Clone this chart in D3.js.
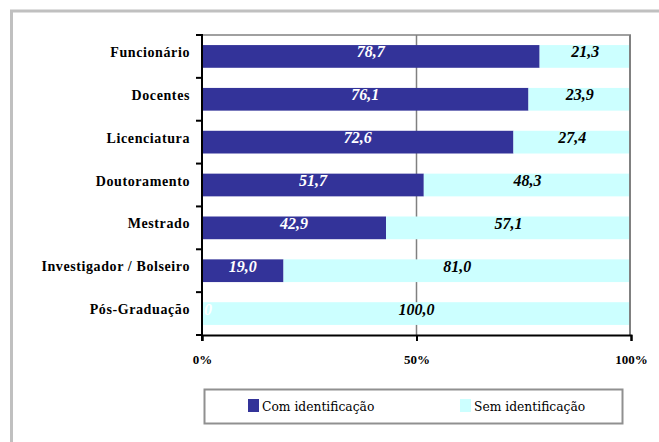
<!DOCTYPE html>
<html>
<head>
<meta charset="utf-8">
<script src="https://cdn.jsdelivr.net/npm/d3@7"></script>
<style>
  body { margin: 0; background: #fff; }
</style>
</head>
<body>
<svg id="chart" width="659" height="442"></svg>
<script>
// data
var categories = ["Funcionário", "Docentes", "Licenciatura", "Doutoramento", "Mestrado", "Investigador / Bolseiro", "Pós-Graduação"];
var comIdent = [78.7, 76.1, 72.6, 51.7, 42.9, 19.0, 0.0];
var semIdent = [21.3, 23.9, 27.4, 48.3, 57.1, 81.0, 100.0];
var seriesNames = ["Com identificação", "Sem identificação"];
var xTicks = [0, 50, 100];

var colors = ["#333399", "#ccffff"];
var SERIF = "'Liberation Serif', 'Times New Roman', serif";

var svg = d3.select("#chart");

// outer frame (runs off the right and bottom)
svg.append("rect")
  .attr("x", 11.5).attr("y", 11)
  .attr("width", 700).attr("height", 500)
  .attr("fill", "none").attr("stroke", "#c0c0c0").attr("stroke-width", 3);

var pLeft = 202, pRight = 631, pTop = 35, pBottom = 335;

var x = d3.scaleLinear().domain([0, 100]).range([pLeft, pRight]);
var y = d3.scaleBand().domain(categories).range([pTop, pBottom]).paddingInner(0.47).paddingOuter(0.235);

var rows = categories.map(function(c, i) {
  return { cat: c, vals: [comIdent[i], semIdent[i]] };
});

// grey frame / gridline (under the bars)
svg.append("line").attr("x1", pLeft).attr("x2", pRight).attr("y1", pTop).attr("y2", pTop)
  .attr("stroke", "#808080").attr("stroke-width", 1.5);
svg.append("line").attr("x1", x(50)).attr("x2", x(50)).attr("y1", pTop).attr("y2", pBottom)
  .attr("stroke", "#808080").attr("stroke-width", 1.5);

// bars
var g = svg.append("g");
rows.forEach(function(r) {
  var start = 0;
  r.vals.forEach(function(v, k) {
    g.append("rect")
      .attr("x", x(start))
      .attr("y", y(r.cat))
      .attr("width", x(start + v) - x(start))
      .attr("height", y.bandwidth())
      .attr("fill", colors[k]);
    start += v;
  });
});

svg.append("line").attr("x1", pRight - 1).attr("x2", pRight - 1).attr("y1", pTop).attr("y2", pBottom)
  .attr("stroke", "#808080").attr("stroke-width", 2);

// value labels
rows.forEach(function(r) {
  var start = 0;
  r.vals.forEach(function(v, k) {
    svg.append("text")
      .attr("x", x(start + v / 2))
      .attr("y", y(r.cat) + y.bandwidth() / 2 + 1)
      .attr("text-anchor", "middle")
      .attr("font-family", SERIF)
      .attr("font-size", 16)
      .attr("font-weight", "bold")
      .attr("font-style", "italic")
      .attr("fill", k === 0 ? "#fff" : "#000")
      .text(v.toFixed(1).replace(".", ","));
    start += v;
  });
});

// left axis
var yAxis = d3.axisLeft(y).tickSize(0).tickPadding(12);
var ya = svg.append("g").attr("transform", "translate(" + pLeft + ",0)").call(yAxis);
ya.attr("font-family", SERIF);
ya.select(".domain").remove();
ya.selectAll("text")
  .attr("dy", null)
  .attr("y", 0.5)
  .attr("font-family", SERIF)
  .attr("font-size", 14).attr("font-weight", "bold").attr("fill", "#000")
  .attr("letter-spacing", 0.6);

svg.append("line").attr("x1", pLeft).attr("x2", pLeft).attr("y1", pTop - 1).attr("y2", pBottom + 6)
  .attr("stroke", "#000").attr("stroke-width", 2);
// category separator ticks
var step = (pBottom - pTop) / categories.length;
d3.range(categories.length + 1).forEach(function(i) {
  svg.append("line")
    .attr("x1", pLeft - 6).attr("x2", pLeft)
    .attr("y1", pTop + i * step).attr("y2", pTop + i * step)
    .attr("stroke", "#000").attr("stroke-width", 2);
});

// bottom axis
var xAxis = d3.axisBottom(x).tickValues(xTicks).tickSize(6).tickPadding(14)
  .tickFormat(function(d) { return d + "%"; });
var xa = svg.append("g").attr("transform", "translate(0," + pBottom + ")").call(xAxis);
xa.attr("font-family", SERIF);
xa.select(".domain").attr("stroke", "#000").attr("stroke-width", 2);
xa.selectAll(".tick line").attr("stroke", "#000").attr("stroke-width", 2);
xa.selectAll("text")
  .attr("font-family", SERIF)
  .attr("font-size", 13).attr("font-weight", "bold").attr("fill", "#000");

// legend
var lg = svg.append("g");
lg.append("rect")
  .attr("x", 204.5).attr("y", 389.5).attr("width", 418).attr("height", 34)
  .attr("fill", "#fff").attr("stroke", "#909090").attr("stroke-width", 2);
var legendX = [248, 460];
seriesNames.forEach(function(n, k) {
  lg.append("rect")
    .attr("x", legendX[k]).attr("y", 399).attr("width", 11).attr("height", 13)
    .attr("fill", colors[k]);
  lg.append("text")
    .attr("x", legendX[k] + 14).attr("y", 410.5)
    .attr("font-size", 12.3)
    .attr("font-family", "'DejaVu Serif', serif")
    .attr("fill", "#000")
    .text(n);
});
</script>
</body>
</html>
